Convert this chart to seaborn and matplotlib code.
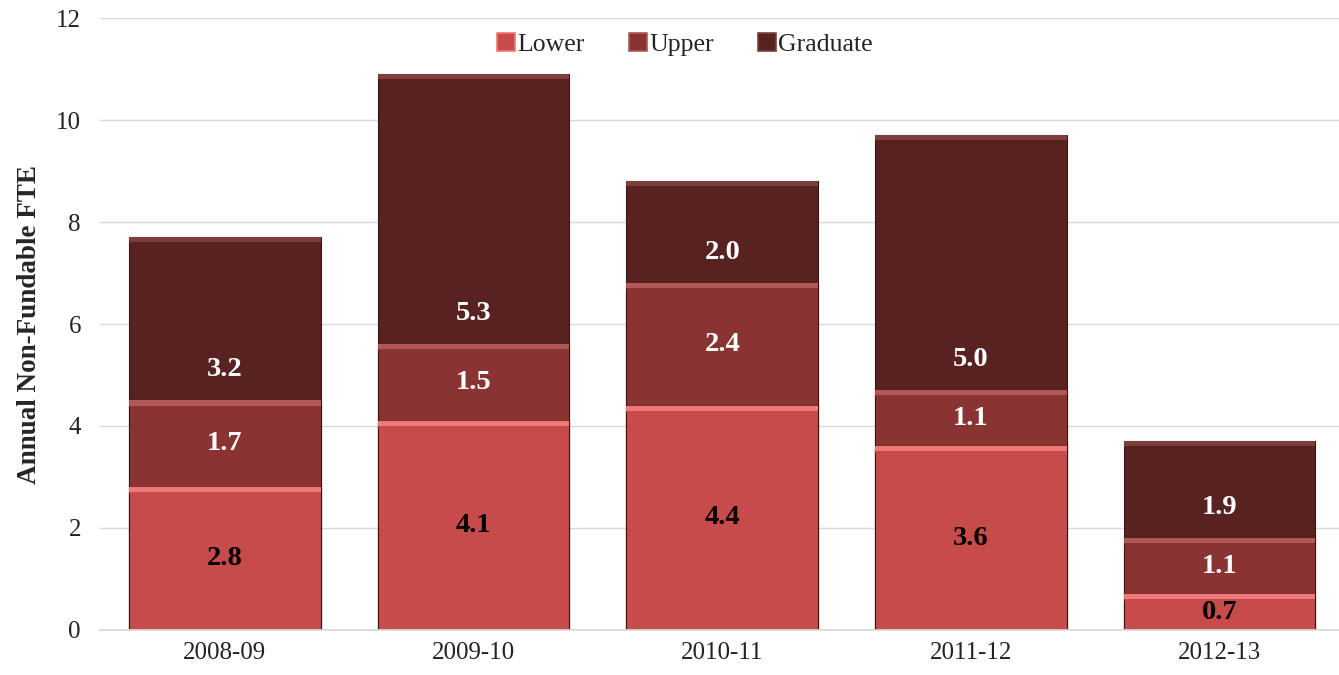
import numpy as np
import pandas as pd
import matplotlib
matplotlib.use("Agg")
import matplotlib.pyplot as plt
import seaborn as sns
from matplotlib.patches import Patch

# chart data
years = ["2008-09", "2009-10", "2010-11", "2011-12", "2012-13"]
lower = [2.8, 4.1, 4.4, 3.6, 0.7]
upper = [1.7, 1.5, 2.4, 1.1, 1.1]
graduate = [3.2, 5.3, 2.0, 5.0, 1.9]

series_names = ["Lower", "Upper", "Graduate"]
colors = ["#C84B4B", "#8A3333", "#57221F"]
highlights = ["#EE7A78", "#B15856", "#7E3E3B"]
label_colors = ["black", "white", "white"]

sns.set_theme(style="white")
plt.rcParams["font.family"] = ["Liberation Serif", "DejaVu Serif"]

df = pd.DataFrame({"year": years, "Lower": lower, "Upper": upper, "Graduate": graduate})
df["c1"] = df["Lower"]
df["c2"] = df["Lower"] + df["Upper"]
df["c3"] = df["c2"] + df["Graduate"]

fig = plt.figure(figsize=(13.39, 6.75), dpi=100)
ax = fig.add_axes([0.075, 0.0667, 0.925, 0.9066])

bw = 0.77
# stacked by overlapping cumulative totals, tallest first
for col, c in zip(["c3", "c2", "c1"], colors[::-1]):
    sns.barplot(data=df, x="year", y=col, color=c, width=bw, saturation=1,
                edgecolor="#3a1514", linewidth=0.8, ax=ax)

# bevel-like highlight strip on top of each segment
xs = np.arange(len(years))
bottoms = [np.zeros(len(years)), df["c1"].values, df["c2"].values]
tops = [df["c1"].values, df["c2"].values, df["c3"].values]
for i in range(3):
    ax.bar(xs, 0.1, bottom=tops[i] - 0.1, width=bw, color=highlights[i], linewidth=0)
    ax.bar(xs, 0.03, bottom=tops[i] - 0.13, width=bw, color=colors[i], linewidth=0, alpha=0.6)

# value labels
vals = [lower, upper, graduate]
for i in range(3):
    for j in range(len(years)):
        if i < 2:
            y = bottoms[i][j] + vals[i][j] / 2
        else:
            y = bottoms[i][j] + 0.6
        ax.text(xs[j], y, f"{vals[i][j]:.1f}", ha="center", va="center",
                color=label_colors[i], fontsize=20.5, fontweight="bold")

ax.set_ylim(0, 12)
ax.set_xlim(-0.5, 4.48)
ax.set_yticks(range(0, 13, 2))
ax.yaxis.grid(True, color="#D9D9D9", linewidth=1)
ax.set_axisbelow(True)
for s in ["top", "right", "left"]:
    ax.spines[s].set_visible(False)
ax.spines["bottom"].set_color("#D9D9D9")
ax.tick_params(axis="both", length=0, labelsize=18, colors="#222222")
ax.tick_params(axis="x", pad=9)
ax.tick_params(axis="y", pad=14)
ax.set_xlabel("")
ax.set_ylabel("Annual Non-Fundable FTE", fontsize=19.5, fontweight="bold", labelpad=10)

handles = [Patch(facecolor=c, edgecolor=h, linewidth=1.2) for c, h in zip(colors, highlights)]
ax.legend(handles, series_names, loc="center", bbox_to_anchor=(0.472, 0.957), ncol=3,
          frameon=False, fontsize=18.5, handlelength=0.7, handleheight=0.7,
          handletextpad=0.1, columnspacing=1.7)

fig.savefig("out.png", dpi=100)
